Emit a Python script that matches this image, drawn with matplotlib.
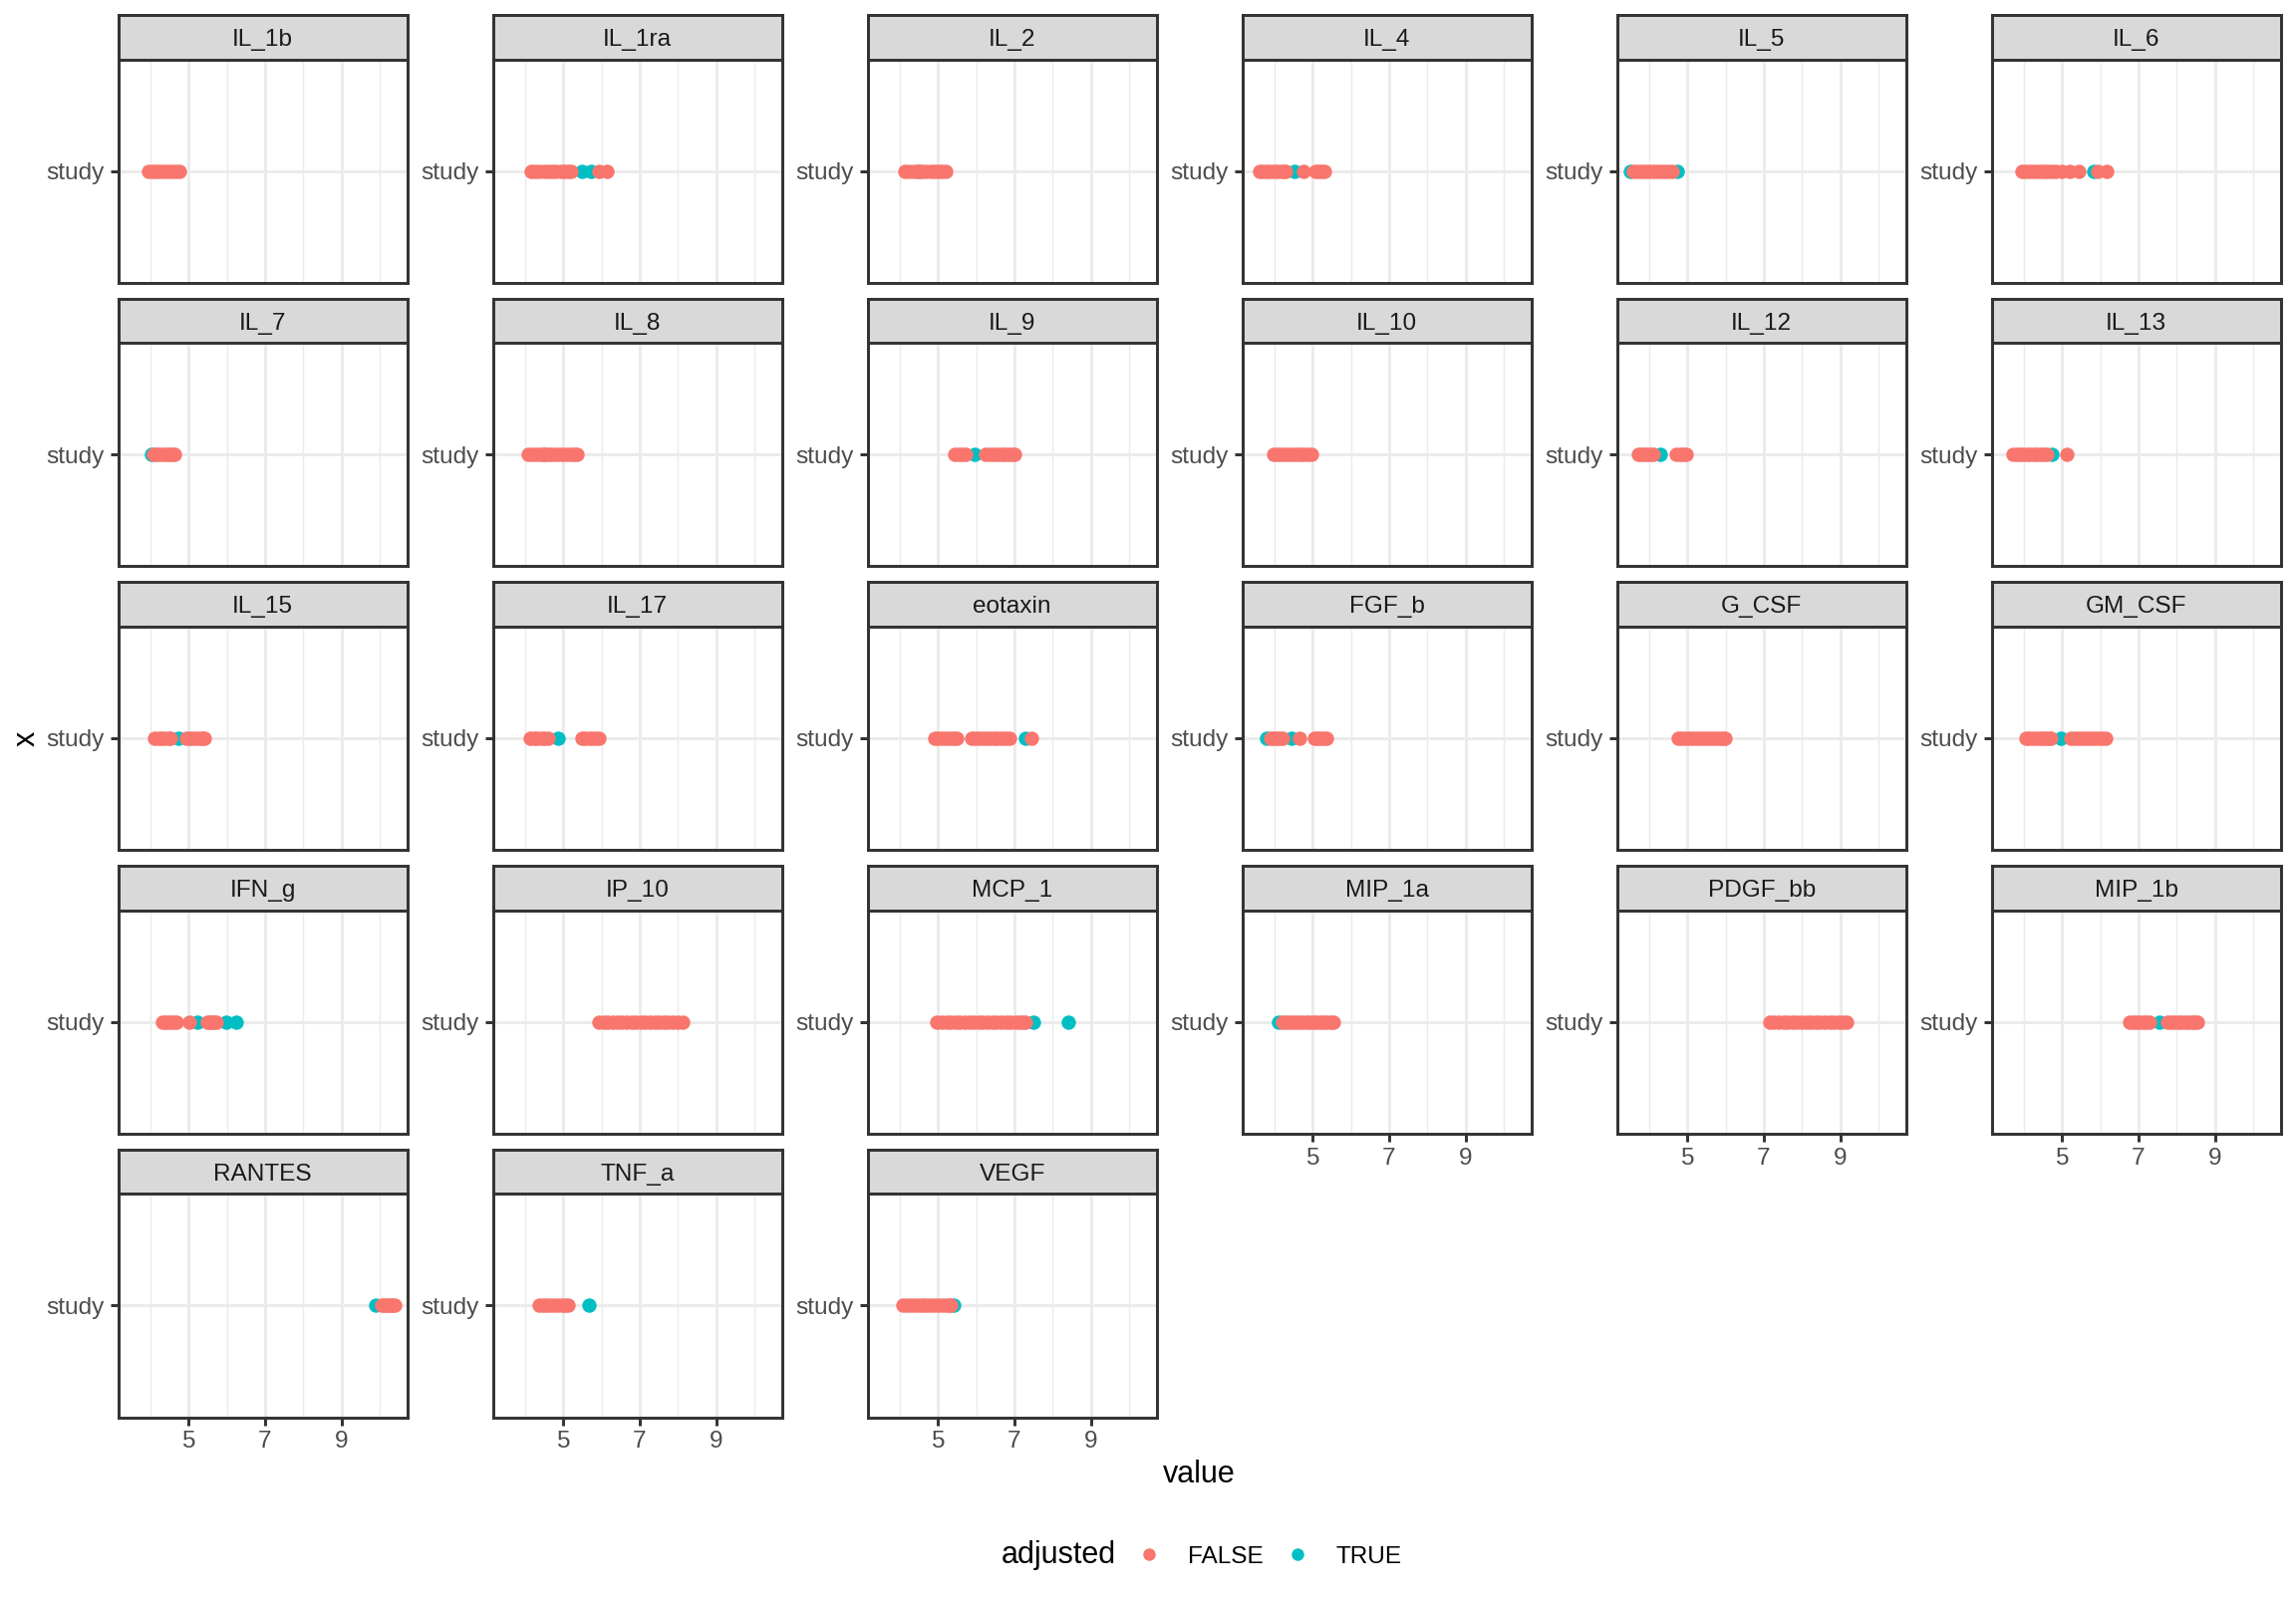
import matplotlib
matplotlib.use("Agg")
import matplotlib.pyplot as plt
from matplotlib.lines import Line2D

plt.rcParams['font.family'] = ['Liberation Sans', 'DejaVu Sans']

# ---- data ----
il_1b_false = [3.95, 4.05, 4.15, 4.25, 4.35, 4.45, 4.55, 4.65, 4.75]
il_1b_true = []
il_1ra_false = [4.16, 4.27, 4.38, 4.49, 4.6, 4.71, 4.82, 4.93, 5.03, 5.12, 5.21, 5.93, 6.15]
il_1ra_true = [5.5, 5.73]
il_2_false = [4.14, 4.25, 4.36, 4.47, 4.58, 4.69, 4.8, 4.91, 5.02, 5.1, 5.19]
il_2_true = [4.5]
il_4_false = [3.61, 3.7, 3.79, 3.88, 3.97, 4.06, 4.15, 4.23, 4.3, 4.75, 5.07, 5.15, 5.23, 5.3]
il_4_true = [4.52]
il_5_false = [3.59, 3.69, 3.79, 3.89, 3.99, 4.09, 4.19, 4.29, 4.39, 4.49, 4.61]
il_5_true = [3.5, 4.73]
il_6_false = [3.94, 4.04, 4.14, 4.24, 4.34, 4.44, 4.54, 4.64, 4.74, 4.84, 5.0, 5.19, 5.45, 5.92, 6.17]
il_6_true = [5.82]
il_7_false = [4.07, 4.15, 4.24, 4.33, 4.42, 4.51, 4.58, 4.64]
il_7_true = [4.02]
il_8_false = [4.09, 4.19, 4.29, 4.39, 4.49, 4.59, 4.69, 4.79, 4.89, 4.99, 5.09, 5.19, 5.28, 5.35]
il_8_true = [4.5]
il_9_false = [5.45, 5.53, 5.62, 5.72, 6.25, 6.35, 6.45, 6.55, 6.65, 6.75, 6.85, 6.94, 7.0]
il_9_true = [5.97]
il_10_false = [3.97, 4.07, 4.17, 4.27, 4.37, 4.47, 4.57, 4.67, 4.77, 4.87, 4.96]
il_10_true = []
il_12_false = [3.72, 3.8, 3.88, 3.96, 4.04, 4.11, 4.72, 4.8, 4.88, 4.98]
il_12_true = [4.3]
il_13_false = [3.72, 3.81, 3.9, 3.99, 4.08, 4.17, 4.26, 4.35, 4.44, 4.53, 4.6, 5.13]
il_13_true = [4.74]
il_15_false = [4.11, 4.2, 4.29, 4.38, 4.46, 4.53, 4.95, 5.03, 5.11, 5.19, 5.27, 5.35, 5.42]
il_15_true = [4.73]
il_17_false = [4.14, 4.23, 4.32, 4.41, 4.5, 4.59, 5.49, 5.58, 5.67, 5.76, 5.85, 5.92]
il_17_true = [4.86]
eotaxin_false = [4.91, 5.0, 5.1, 5.2, 5.3, 5.4, 5.49, 5.87, 5.97, 6.07, 6.17, 6.27, 6.37, 6.47,
                 6.57, 6.67, 6.77, 6.88, 7.44]
eotaxin_true = [7.3]
fgf_b_false = [3.9, 3.98, 4.06, 4.14, 4.22, 4.65, 5.04, 5.12, 5.2, 5.28, 5.37]
fgf_b_true = [3.8, 4.45]
g_csf_false = [4.75, 4.85, 4.95, 5.05, 5.15, 5.25, 5.35, 5.45, 5.55, 5.65, 5.75, 5.85, 5.93, 5.99]
g_csf_true = []
gm_csf_false = [4.05, 4.14, 4.23, 4.32, 4.41, 4.5, 4.58, 4.65, 4.71, 5.23, 5.33, 5.43, 5.53, 5.63,
                5.73, 5.83, 5.93, 6.03, 6.13]
gm_csf_true = [4.97]
ifn_g_false = [4.32, 4.4, 4.48, 4.56, 4.63, 4.69, 5.02, 5.48, 5.55, 5.62, 5.67, 5.72]
ifn_g_true = [5.24, 5.98, 6.25]
ip_10_false = [5.94, 6.06, 6.18, 6.3, 6.42, 6.54, 6.66, 6.78, 6.9, 7.02, 7.14, 7.26, 7.38, 7.5,
               7.62, 7.74, 7.86, 7.98, 8.11]
ip_10_true = []
mcp_1_false = [4.98, 5.1, 5.22, 5.34, 5.46, 5.58, 5.7, 5.82, 5.94, 6.06, 6.18, 6.3, 6.42, 6.54,
               6.66, 6.78, 6.9, 7.02, 7.14, 7.22, 7.3]
mcp_1_true = [7.5, 8.4]
mip_1a_false = [4.2, 4.29, 4.38, 4.47, 4.56, 4.65, 4.74, 4.83, 4.92, 5.01, 5.1, 5.19, 5.28, 5.37,
                5.46, 5.55]
mip_1a_true = [4.12]
pdgf_bb_false = [7.15, 7.27, 7.39, 7.51, 7.63, 7.75, 7.87, 7.99, 8.11, 8.23, 8.35, 8.47, 8.59,
                 8.71, 8.83, 8.95, 9.07, 9.17]
pdgf_bb_true = []
mip_1b_false = [6.77, 6.86, 6.95, 7.04, 7.13, 7.22, 7.3, 7.77, 7.86, 7.95, 8.04, 8.13, 8.22, 8.31,
                8.4, 8.47, 8.53]
mip_1b_true = [7.55]
rantes_false = [10.04, 10.1, 10.16, 10.22, 10.28, 10.33, 10.38]
rantes_true = [9.9]
tnf_a_false = [4.36, 4.46, 4.56, 4.66, 4.76, 4.86, 4.96, 5.05, 5.12]
tnf_a_true = [5.66]
vegf_false = [4.09, 4.19, 4.29, 4.39, 4.49, 4.59, 4.69, 4.79, 4.89, 4.99, 5.09, 5.19, 5.27, 5.33]
vegf_true = [5.42]

panel_names = ["IL_1b", "IL_1ra", "IL_2", "IL_4", "IL_5", "IL_6",
               "IL_7", "IL_8", "IL_9", "IL_10", "IL_12", "IL_13",
               "IL_15", "IL_17", "eotaxin", "FGF_b", "G_CSF", "GM_CSF",
               "IFN_g", "IP_10", "MCP_1", "MIP_1a", "PDGF_bb", "MIP_1b",
               "RANTES", "TNF_a", "VEGF"]
x_ticks = [5, 7, 9]
x_minor = [4, 6, 8, 10]
y_category = "study"
legend_labels = ["FALSE", "TRUE"]

panel_data = [
    (il_1b_false, il_1b_true), (il_1ra_false, il_1ra_true), (il_2_false, il_2_true),
    (il_4_false, il_4_true), (il_5_false, il_5_true), (il_6_false, il_6_true),
    (il_7_false, il_7_true), (il_8_false, il_8_true), (il_9_false, il_9_true),
    (il_10_false, il_10_true), (il_12_false, il_12_true), (il_13_false, il_13_true),
    (il_15_false, il_15_true), (il_17_false, il_17_true), (eotaxin_false, eotaxin_true),
    (fgf_b_false, fgf_b_true), (g_csf_false, g_csf_true), (gm_csf_false, gm_csf_true),
    (ifn_g_false, ifn_g_true), (ip_10_false, ip_10_true), (mcp_1_false, mcp_1_true),
    (mip_1a_false, mip_1a_true), (pdgf_bb_false, pdgf_bb_true), (mip_1b_false, mip_1b_true),
    (rantes_false, rantes_true), (tnf_a_false, tnf_a_true), (vegf_false, vegf_true),
]

# ---- styling ----
W, H = 2304, 1612
DPI = 200
COL_F = "#F8766D"
COL_T = "#00BFC4"
GREY20 = "#333333"
GREY30 = "#4D4D4D"
GRID = "#EBEBEB"
LW = 1.07
PT_S = 27

all_vals = [v for f, t in panel_data for v in (f + t)]
vmin, vmax = min(all_vals), max(all_vals)
span = vmax - vmin
xlo, xhi = vmin - 0.05 * span, vmax + 0.05 * span

fig = plt.figure(figsize=(W / DPI, H / DPI), dpi=DPI)
fig.patch.set_facecolor("white")

col_left = [118.5, 494.5, 870.5, 1246.5, 1622.5, 1998.5]
pw = 290.3
strip_top0 = 15.0
strip_h = 44.5
panel_h = 224.2
row_pitch = 284.7
ncol = 6
n = len(panel_names)
cap_px = 8.8 / 72 * DPI * 0.716


def fx(px):
    return px / W


def fy(py):
    return 1 - py / H


for i, (name, (fv, tv)) in enumerate(zip(panel_names, panel_data)):
    r, c = divmod(i, ncol)
    st = strip_top0 + r * row_pitch
    pt = st + strip_h
    pb = pt + panel_h
    ax = fig.add_axes([fx(col_left[c]), fy(pb), pw / W, panel_h / H])
    ax.set_xlim(xlo, xhi)
    ax.set_ylim(0.4, 1.6)
    ax.set_xticks(x_ticks)
    ax.set_xticks(x_minor, minor=True)
    ax.set_yticks([1])
    ax.set_yticklabels([y_category])
    ax.grid(which="major", color=GRID, lw=LW)
    ax.grid(which="minor", axis="x", color=GRID, lw=LW / 2)
    ax.set_axisbelow(True)
    for s in ax.spines.values():
        s.set_color(GREY20)
        s.set_linewidth(LW)
    ax.tick_params(which="major", length=2.74, width=LW, color=GREY20,
                   labelcolor=GREY30, labelsize=8.8, pad=2.2)
    ax.tick_params(which="minor", length=0)
    if i + ncol < n:
        ax.tick_params(axis="x", which="both", bottom=False, labelbottom=False)
    if tv:
        ax.scatter(tv, [1] * len(tv), s=PT_S, c=COL_T, linewidths=0, zorder=3)
    ax.scatter(fv, [1] * len(fv), s=PT_S, c=COL_F, linewidths=0, zorder=4)

    # strip
    sax = fig.add_axes([fx(col_left[c]), fy(pt), pw / W, strip_h / H])
    sax.set_facecolor("#D9D9D9")
    sax.set_xticks([])
    sax.set_yticks([])
    for s in sax.spines.values():
        s.set_color(GREY20)
        s.set_linewidth(LW)
    fig.text(fx(col_left[c] + pw / 2), fy(st + strip_h / 2 + cap_px / 2), name,
             ha="center", va="baseline", fontsize=8.8, color="#1A1A1A")

# axis titles
fig.text(fx(26.5), fy(741), "x", rotation=90, ha="center", va="center", fontsize=11)
fig.text(fx(1203.5), fy(1480), "value", ha="center", va="center", fontsize=11)

# legend
ly = 1560
fig.text(fx(1005), fy(ly + 1), "adjusted", ha="left", va="center", fontsize=11)
for xm, xt, col, lab in [(1153, 1192, COL_F, legend_labels[0]),
                         (1301.5, 1340.5, COL_T, legend_labels[1])]:
    fig.add_artist(Line2D([fx(xm)], [fy(ly)], marker="o", markersize=4.5,
                          markerfacecolor=col, markeredgewidth=0, linestyle="none",
                          transform=fig.transFigure))
    fig.text(fx(xt), fy(ly + cap_px / 2), lab, ha="left", va="baseline", fontsize=8.8)

fig.savefig("out.png", dpi=DPI, facecolor="white")
